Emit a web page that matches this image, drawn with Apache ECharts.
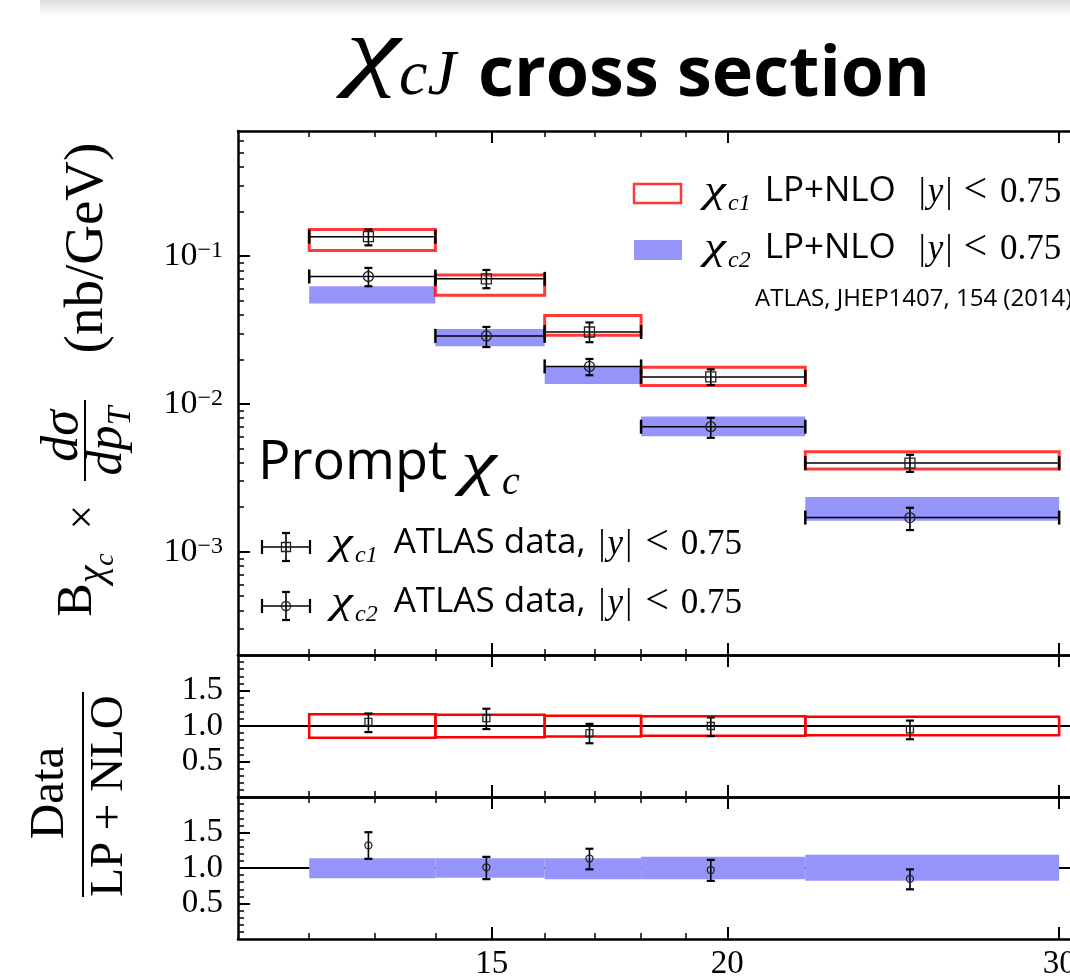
<!DOCTYPE html>
<html>
<head>
<meta charset="utf-8">
<script src="https://cdn.jsdelivr.net/npm/echarts@6/dist/echarts.min.js"></script>
<style>
  html, body { margin: 0; padding: 0; background: #fff; overflow: hidden; }
  #chart { width: 1200px; height: 977px; }
</style>
</head>
<body>
<div id="chart"></div>
<script>
// ---- pT binning (GeV) and mean pT of each measured point ----
const binLo  = [12, 14, 16, 18, 22];
const binHi  = [14, 16, 18, 22, 30];
const ptMean = [12.9, 14.9, 16.9, 19.6, 25.0];

// ---- chi_c1: ATLAS data (nb/GeV) and LP+NLO band ----
const c1Data   = [0.135, 0.070, 0.0306, 0.0152, 0.00397];
const c1DataUp = [0.151, 0.0804, 0.0355, 0.0171, 0.00452];
const c1DataDn = [0.118, 0.0605, 0.0261, 0.0134, 0.00346];
const c1ThLo   = [0.109, 0.0542, 0.0291, 0.0133, 0.00362];
const c1ThHi   = [0.151, 0.0744, 0.0395, 0.0177, 0.00474];

// ---- chi_c2: ATLAS data (nb/GeV) and LP+NLO band ----
const c2Data   = [0.0726, 0.0288, 0.0179, 0.0070, 0.0017];
const c2DataUp = [0.083, 0.0331, 0.0201, 0.00804, 0.00198];
const c2DataDn = [0.0624, 0.0242, 0.0156, 0.00589, 0.0014];
const c2ThLo   = [0.0476, 0.0245, 0.0136, 0.00603, 0.00162];
const c2ThHi   = [0.0624, 0.0321, 0.0178, 0.00822, 0.00234];

// ---- Data / (LP+NLO) ----
const r1Val  = [1.057, 1.11, 0.90, 1.00, 0.952];
const r1Up   = [1.176, 1.243, 1.03, 1.12, 1.076];
const r1Dn   = [0.914, 0.957, 0.757, 0.857, 0.814];
const r1ThLo = [0.833, 0.843, 0.853, 0.862, 0.871];
const r1ThHi = [1.167, 1.157, 1.143, 1.138, 1.129];

const r2Val  = [1.319, 1.01, 1.133, 0.971, 0.848];
const r2Up   = [1.504, 1.157, 1.271, 1.114, 0.981];
const r2Dn   = [1.129, 0.843, 0.981, 0.819, 0.70];
const r2ThLo = [0.857, 0.862, 0.843, 0.843, 0.819];
const r2ThHi = [1.138, 1.138, 1.138, 1.157, 1.186];
const ratioRef = 1.0;

// ---- axis ranges and ticks ----
const xRange = [11, 32];
const xMajorTicks = [15, 20, 30];
const xMinorTicks = [12, 13, 14, 16, 17, 18, 19];
const yRange = [2e-4, 0.7];
const yMajorTicks = [1e-3, 1e-2, 1e-1];
const yMinorTicks = [3e-4, 4e-4, 5e-4, 6e-4, 7e-4, 8e-4, 9e-4,
                     2e-3, 3e-3, 4e-3, 5e-3, 6e-3, 7e-3, 8e-3, 9e-3,
                     2e-2, 3e-2, 4e-2, 5e-2, 6e-2, 7e-2, 8e-2, 9e-2,
                     0.2, 0.3, 0.4, 0.5, 0.6];
const ratioRange = [0, 2];
const ratioMajorTicks = [0.5, 1.0, 1.5];
const ratioMinorTicks = [0.1, 0.2, 0.3, 0.4, 0.6, 0.7, 0.8, 0.9,
                         1.1, 1.2, 1.3, 1.4, 1.6, 1.7, 1.8, 1.9];

// ---- styling ----
const SERIF = '"Liberation Serif", "DejaVu Serif", serif';
const SANS = '"Open Sans", "Noto Sans", sans-serif';
const RED_MAIN = 'rgba(255,0,0,0.78)';
const RED_RATIO = '#ff0000';
const BLUE = '#9494fa';
const GRID_LEFT = 238, GRID_W = 874;

const chart = echarts.init(document.getElementById('chart'), null, { renderer: 'canvas' });

// rich-text token whose baseline sits `base` px below the line top
function tok(fam, f, base, extra) {
  const k = fam === SANS ? 0.39 : 0.34;
  const pad = Math.max(0, base - (0.5 + k) * f);
  return Object.assign({ fontFamily: fam, fontSize: f, lineHeight: f, verticalAlign: 'top',
    padding: [pad, 0, 0, 0], color: '#000' }, extra || {});
}
function gap(w) { return { width: w, fontSize: 10, lineHeight: 10, verticalAlign: 'top' }; }
const IT = { fontStyle: 'italic' };

// ---- axes: each panel gets major + minor tick axes on bottom/top (x) and left (y) ----
const xAxes = [], yAxes = [];
function addXAxes(grid, withLabels) {
  const base = { gridIndex: grid, type: 'log', logBase: 10, min: xRange[0], max: xRange[1],
    splitLine: { show: false } };
  const idx = xAxes.length;
  ['bottom', 'top'].forEach(pos => {
    xAxes.push(Object.assign({}, base, {
      position: pos,
      axisLine: { show: true, onZero: false, lineStyle: { color: '#000', width: 2.5 } },
      axisTick: { show: true, inside: true, length: 12, customValues: xMajorTicks,
        lineStyle: { color: '#000', width: 2 } },
      axisLabel: (withLabels && pos === 'bottom') ? {
        show: true, customValues: xMajorTicks, margin: 9, color: '#000',
        fontFamily: SERIF, fontSize: 33, formatter: v => String(Math.round(v))
      } : { show: false }
    }));
    xAxes.push(Object.assign({}, base, {
      position: pos,
      axisLine: { show: false, onZero: false },
      axisTick: { show: true, inside: true, length: 6, customValues: xMinorTicks,
        lineStyle: { color: '#000', width: 1.5 } },
      axisLabel: { show: false }
    }));
  });
  return idx;
}
function addYAxes(grid, major, minor, extra, labelCfg) {
  const idx = yAxes.length;
  yAxes.push(Object.assign({ gridIndex: grid, position: 'left', splitLine: { show: false },
    axisLine: { show: true, onZero: false, lineStyle: { color: '#000', width: 2.5 } },
    axisTick: { show: true, inside: true, length: 12, customValues: major,
      lineStyle: { color: '#000', width: 2 } },
    axisLabel: labelCfg }, extra));
  yAxes.push(Object.assign({ gridIndex: grid, position: 'left', splitLine: { show: false },
    axisLine: { show: false, onZero: false },
    axisTick: { show: true, inside: true, length: 6, customValues: minor,
      lineStyle: { color: '#000', width: 1.5 } },
    axisLabel: { show: false } }, extra));
  return idx;
}

const xMain = addXAxes(0, false);
const xR1 = addXAxes(1, false);
const xR2 = addXAxes(2, true);

const yMain = addYAxes(0, yMajorTicks, yMinorTicks,
  { type: 'log', logBase: 10, min: yRange[0], max: yRange[1] },
  { show: true, customValues: yMajorTicks, margin: 15,
    fontFamily: SERIF, fontSize: 34, color: '#000',
    formatter: v => '{man|10}{pow|\u2212' + Math.round(-Math.log10(v)) + '}',
    rich: {
      man: { fontFamily: SERIF, fontSize: 34, lineHeight: 34, verticalAlign: 'top', color: '#000' },
      pow: { fontFamily: SERIF, fontSize: 24, lineHeight: 24, verticalAlign: 'top', color: '#000' }
    } });
const ratioLabel = { show: true, customValues: ratioMajorTicks, margin: 15, color: '#000',
  fontFamily: SERIF, fontSize: 33, formatter: v => v.toFixed(1) };
const yR1 = addYAxes(1, ratioMajorTicks, ratioMinorTicks,
  { type: 'value', min: ratioRange[0], max: ratioRange[1] }, ratioLabel);
const yR2 = addYAxes(2, ratioMajorTicks, ratioMinorTicks,
  { type: 'value', min: ratioRange[0], max: ratioRange[1] }, ratioLabel);

// ---- series builders ----
function bandSeries(xi, yi, lo, hi, style, extra) {
  return Object.assign({
    type: 'custom', xAxisIndex: xi, yAxisIndex: yi, silent: true,
    encode: { x: [0, 1], y: [2, 3] },
    data: binLo.map((b, i) => [b, binHi[i], lo[i], hi[i]]),
    renderItem: (params, api) => {
      const a = api.coord([api.value(0), api.value(3)]);
      const b = api.coord([api.value(1), api.value(2)]);
      return { type: 'rect', shape: { x: a[0], y: a[1], width: b[0] - a[0], height: b[1] - a[1] },
        style: style };
    }
  }, extra || {});
}

function seg(x1, y1, x2, y2, w) {
  return { type: 'line', shape: { x1, y1, x2, y2 }, style: { stroke: '#000', lineWidth: w } };
}
function marker(kind, c, s) {
  const st = { stroke: '#222', lineWidth: 1.3, fill: 'none' };
  return kind === 'square'
    ? { type: 'rect', shape: { x: c[0] - s / 2, y: c[1] - s / 2, width: s, height: s }, style: st }
    : { type: 'circle', shape: { cx: c[0], cy: c[1], r: s / 2 }, style: st };
}

// data points with x (bin width) and y error bars
function pointSeries(xi, yi, val, dn, up, kind, withXBar, size) {
  return {
    type: 'custom', xAxisIndex: xi, yAxisIndex: yi, silent: true, z: 3,
    encode: { x: [0, 1, 2], y: [3, 4, 5] },
    data: ptMean.map((x, i) => [x, binLo[i], binHi[i], val[i], dn[i], up[i]]),
    renderItem: (params, api) => {
      const x = api.value(0), y = api.value(3);
      const c = api.coord([x, y]);
      const u = api.coord([x, api.value(5)]);
      const d = api.coord([x, api.value(4)]);
      const ch = [];
      if (withXBar) {
        const l = api.coord([api.value(1), y]);
        const r = api.coord([api.value(2), y]);
        ch.push(seg(l[0], c[1], r[0], c[1], 1.5));
        ch.push(seg(l[0], c[1] - 7, l[0], c[1] + 7, 2.5));
        ch.push(seg(r[0], c[1] - 7, r[0], c[1] + 7, 2.5));
      }
      ch.push(seg(c[0], u[1], c[0], d[1], 1.6));
      ch.push(seg(c[0] - 4, u[1], c[0] + 4, u[1], 2.2));
      ch.push(seg(c[0] - 4, d[1], c[0] + 4, d[1], 2.2));
      ch.push(marker(kind, c, size));
      return { type: 'group', children: ch };
    }
  };
}

const refLine = {
  silent: true, symbol: 'none', label: { show: false }, z: 2,
  lineStyle: { color: '#000', width: 2, type: 'solid' },
  data: [{ yAxis: ratioRef }]
};

const series = [
  bandSeries(xMain, yMain, c2ThLo, c2ThHi, { fill: BLUE, stroke: null }),
  bandSeries(xMain, yMain, c1ThLo, c1ThHi, { fill: 'none', stroke: RED_MAIN, lineWidth: 3 }),
  pointSeries(xMain, yMain, c1Data, c1DataDn, c1DataUp, 'square', true, 10),
  pointSeries(xMain, yMain, c2Data, c2DataDn, c2DataUp, 'circle', true, 10),

  bandSeries(xR1, yR1, r1ThLo, r1ThHi, { fill: 'none', stroke: RED_RATIO, lineWidth: 2.5 },
    { markLine: refLine }),
  pointSeries(xR1, yR1, r1Val, r1Dn, r1Up, 'square', false, 7),

  bandSeries(xR2, yR2, r2ThLo, r2ThHi, { fill: BLUE, stroke: null }, { markLine: refLine }),
  pointSeries(xR2, yR2, r2Val, r2Dn, r2Up, 'circle', false, 7)
];

// a wide italic chi (math style), as its own text element
function chi(x, baseline, f, sx) {
  return { type: 'text', x: x, y: baseline - f, scaleX: sx, silent: true,
    style: { text: '{a|\u03c7}', verticalAlign: 'top', rich: { a: tok(SERIF, f, f, IT) } } };
}

// ---- legend rows: chi_cJ label, gaps and math ----
function legendRow(x, baseline, label, text, gaps) {
  const rich = {
    sub: tok(SERIF, 24, 51, IT),
    sf: tok(SANS, 35, 44),
    rm: tok(SERIF, 35, 44),
    it: tok(SERIF, 35, 44, IT),
    lt: tok(SERIF, 42, 44),
    g0: gap(gaps[0]), g1: gap(gaps[1]), g2: gap(gaps[2]), g3: gap(gaps[3]), g4: gap(2)
  };
  return { type: 'group', silent: true, children: [
    chi(x, baseline, 38, 1.3),
    { type: 'text', x: x + 24, y: baseline - 44, style: {
      text: '{sub|' + label + '}{g0| }{sf|' + text + '}{g1| }{rm||}{g4| }{it|y}{g4| }{rm||}{g2| }{lt|<}{g3| }{rm|0.75}',
      verticalAlign: 'top', align: 'left', rich: rich } }
  ] };
}

// error-bar glyph used by the data legend
function errGlyph(cx, cy, kind) {
  const st = { stroke: '#000', lineWidth: 1.6 };
  const thick = { stroke: '#000', lineWidth: 2.2 };
  const mk = kind === 'square'
    ? { type: 'rect', shape: { x: cx - 4.5, y: cy - 4.5, width: 9, height: 9 }, style: { stroke: '#222', lineWidth: 1.3, fill: 'none' } }
    : { type: 'circle', shape: { cx: cx, cy: cy, r: 4.5 }, style: { stroke: '#222', lineWidth: 1.3, fill: 'none' } };
  return { type: 'group', silent: true, children: [
    { type: 'line', shape: { x1: cx - 24, y1: cy, x2: cx + 24, y2: cy }, style: st },
    { type: 'line', shape: { x1: cx - 24, y1: cy - 7, x2: cx - 24, y2: cy + 7 }, style: thick },
    { type: 'line', shape: { x1: cx + 24, y1: cy - 7, x2: cx + 24, y2: cy + 7 }, style: thick },
    { type: 'line', shape: { x1: cx, y1: cy - 14, x2: cx, y2: cy + 14 }, style: st },
    { type: 'line', shape: { x1: cx - 4, y1: cy - 14, x2: cx + 4, y2: cy - 14 }, style: thick },
    { type: 'line', shape: { x1: cx - 4, y1: cy + 14, x2: cx + 4, y2: cy + 14 }, style: thick },
    mk
  ] };
}

function vtext(x, y, text, f, extra) {
  return { type: 'text', x: x, y: y, rotation: Math.PI / 2, silent: true,
    style: Object.assign({ text: text, align: 'center', verticalAlign: 'middle',
      fontFamily: SERIF, fontSize: f, fill: '#000' }, extra || {}) };
}

// ---- texts, legends and axis titles ----
const graphic = [
  // soft shadow along the top edge
  { type: 'rect', left: 40, top: 0, shape: { width: 1160, height: 16 }, silent: true,
    style: { fill: new echarts.graphic.LinearGradient(0, 0, 0, 1, [
      { offset: 0, color: 'rgba(0,0,0,0.13)' }, { offset: 1, color: 'rgba(0,0,0,0)' }]) } },

  // title
  chi(346, 86, 88, 1.4),
  { type: 'text', x: 399, y: 0, silent: true, style: { text: '{a|cJ}', verticalAlign: 'top',
      rich: { a: tok(SERIF, 64, 99, IT) } } },
  { type: 'text', x: 478, y: 0, silent: true, style: { text: '{a|cross section}', verticalAlign: 'top',
      rich: { a: tok(SANS, 70, 103, { fontWeight: 'bold' }) } } },

  // model legend
  { type: 'rect', shape: { x: 634, y: 184, width: 47, height: 19 }, silent: true,
    style: { fill: 'none', stroke: RED_MAIN, lineWidth: 2.5 } },
  { type: 'rect', shape: { x: 634, y: 240, width: 48, height: 20 }, silent: true, style: { fill: BLUE } },
  legendRow(704, 205, 'c1', 'LP+NLO', [14, 23, 11, 13]),
  legendRow(704, 262, 'c2', 'LP+NLO', [14, 23, 11, 13]),
  { type: 'text', x: 755, y: 311, silent: true, style: { text: '{a|ATLAS, JHEP1407, 154 (2014)}',
      verticalAlign: 'bottom', rich: { a: { fontFamily: SANS, fontSize: 24, color: '#000' } } } },

  // Prompt chi_c
  { type: 'text', x: 258, y: 485 - 60, silent: true, style: { text: '{t|Prompt}', verticalAlign: 'top',
      rich: { t: tok(SANS, 54, 60) } } },
  chi(461, 488, 62, 1.3),
  { type: 'text', x: 502, y: 497 - 40, silent: true, style: { text: '{s|c}', verticalAlign: 'top',
      rich: { s: tok(SERIF, 40, 40, IT) } } },

  // data legend
  errGlyph(286, 547, 'square'),
  errGlyph(286, 606, 'circle'),
  legendRow(331, 557, 'c1', 'ATLAS data,', [16, 13, 13, 12]),
  legendRow(331, 616, 'c2', 'ATLAS data,', [16, 13, 13, 12]),

  // y-axis title of the cross-section panel
  vtext(88, 248, '(nb/GeV)', 55),
  vtext(63, 436, 'd\u03c3', 52, { fontStyle: 'italic' }),
  { type: 'line', shape: { x1: 85, y1: 400, x2: 85, y2: 481 }, silent: true, style: { stroke: '#000', lineWidth: 2 } },
  vtext(107, 441, '{m|dp}{s|T}', 50, { rich: { m: tok(SERIF, 50, 43, IT), s: tok(SERIF, 34, 51, IT) } }),
  vtext(84, 517, '\u00d7', 44),
  vtext(78, 585, '{b|B}{s|\u03c7}{c|c}', 50, { rich: { b: tok(SERIF, 50, 42), s: tok(SERIF, 40, 54, IT),
      c: tok(SERIF, 28, 62, IT) } }),

  // y-axis title of the ratio panels
  vtext(50, 793, 'Data', 49),
  { type: 'line', shape: { x1: 83, y1: 692, x2: 83, y2: 897 }, silent: true, style: { stroke: '#000', lineWidth: 2 } },
  vtext(110, 796, 'LP + NLO', 47)
];

chart.setOption({
  animation: false,
  backgroundColor: '#fff',
  grid: [
    { left: GRID_LEFT, top: 131, width: GRID_W, height: 524, outerBoundsMode: 'none', containLabel: false },
    { left: GRID_LEFT, top: 655, width: GRID_W, height: 142, outerBoundsMode: 'none', containLabel: false },
    { left: GRID_LEFT, top: 797, width: GRID_W, height: 142, outerBoundsMode: 'none', containLabel: false }
  ],
  xAxis: xAxes,
  yAxis: yAxes,
  series: series,
  graphic: graphic
});
</script>
</body>
</html>
